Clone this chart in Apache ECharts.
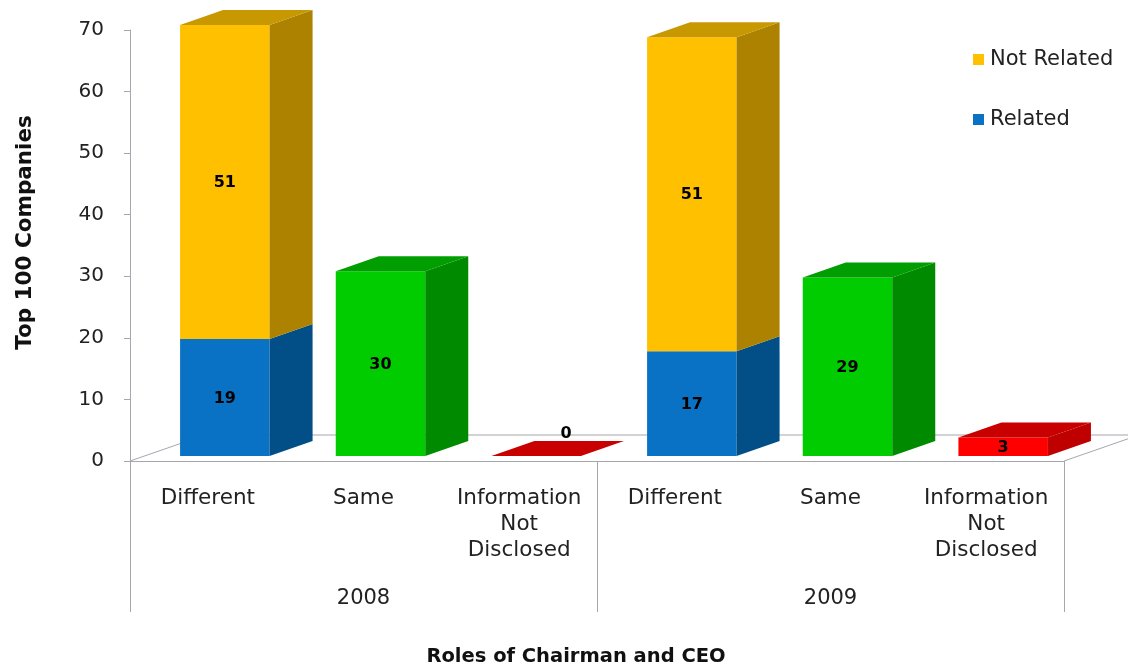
<!DOCTYPE html>
<html>
<head>
<meta charset="utf-8">
<style>
  html, body { margin: 0; padding: 0; background: #fff; }
  #main { width: 1128px; height: 665px; }
</style>
<script src="https://cdn.jsdelivr.net/npm/echarts@6/dist/echarts.min.js"></script>
</head>
<body>
<div id="main"></div>
<script>
var categories = ['Different', 'Same', 'Information\nNot\nDisclosed', 'Different', 'Same', 'Information\nNot\nDisclosed']
var years = ['2008', '2009']
var related = [19, null, null, 17, null, null]
var notRelated = [51, null, null, 51, null, null]
var same = [null, 30, null, null, 29, null]
var notDisclosed = [null, null, 0, null, null, 3]

var FONT = '"DejaVu Sans", Verdana, sans-serif'
var AXIS_COLOR = '#a6a6ae'
var TEXT_COLOR = '#222'

// fake 3d: bars stand on the floor, a bit behind the axis line
var DEPTH_X = 43
var DEPTH_Y = -15
var SHIFT_X = 17
var SHIFT_Y = -5
var BAR_RATIO = 0.575

// [category index, bottom of the segment, top of the segment]
function toItems(values, below) {
  var items = []
  values.forEach(function(v, i) {
    if (v === null) return
    var start = below ? below[i] : 0
    items.push([i, start, start + v])
  })
  return items
}

// top is left out for a segment that has another one stacked on it
function bar3d(front, side, top) {
  return function(params, api) {
    var start = api.coord([api.value(0), api.value(1)])
    var end = api.coord([api.value(0), api.value(2)])
    var w = api.size([1, 0])[0] * BAR_RATIO
    var x0 = start[0] + SHIFT_X - w / 2
    var x1 = x0 + w
    var y0 = start[1] + SHIFT_Y
    var y1 = end[1] + SHIFT_Y
    var value = api.value(2) - api.value(1)
    var children = []
    if (value > 0) {
      children.push({
        type: 'polygon',
        shape: { points: [[x0, y0], [x1, y0], [x1, y1], [x0, y1]] },
        style: { fill: front }
      })
      children.push({
        type: 'polygon',
        shape: { points: [[x1, y0], [x1 + DEPTH_X, y0 + DEPTH_Y], [x1 + DEPTH_X, y1 + DEPTH_Y], [x1, y1]] },
        style: { fill: side }
      })
    }
    if (top) {
      children.push({
        type: 'polygon',
        shape: { points: [[x0, y1], [x1, y1], [x1 + DEPTH_X, y1 + DEPTH_Y], [x0 + DEPTH_X, y1 + DEPTH_Y]] },
        style: { fill: top }
      })
    }
    // the zero bar has no front, its label floats over the flat top
    children.push({
      type: 'text',
      style: {
        text: String(value),
        x: value > 0 ? (x0 + x1) / 2 : (x0 + x1) / 2 + 30,
        y: value > 0 ? (y0 + y1) / 2 + 1 : y1 - 22,
        align: 'center',
        verticalAlign: 'middle',
        fill: '#000',
        font: 'bold 16px ' + FONT
      }
    })
    return { type: 'group', children: children }
  }
}

function renderFloor(params, api) {
  var c = params.coordSys
  var left = c.x
  var right = c.x + c.width
  var bottom = c.y + c.height
  return {
    type: 'polyline',
    shape: { points: [[left, bottom], [left + 75, bottom - 26], [right + 75, bottom - 26], [right, bottom]] },
    style: { fill: null, stroke: AXIS_COLOR, lineWidth: 1 }
  }
}

var chart = echarts.init(document.getElementById('main'))
chart.setOption({
  backgroundColor: '#fff',
  animation: false,
  textStyle: { fontFamily: FONT },
  grid: { left: 130, top: 30, width: 934, height: 431, outerBoundsMode: 'none' },
  legend: {
    data: ['Not Related', 'Related'],
    orient: 'vertical',
    left: 973,
    top: 49,
    padding: 0,
    icon: 'rect',
    itemWidth: 11,
    itemHeight: 11,
    itemGap: 39,
    textStyle: { fontSize: 21, color: TEXT_COLOR, fontFamily: FONT, padding: [0, 0, 0, 1] }
  },
  xAxis: [
    {
      type: 'category',
      data: categories,
      name: 'Roles of Chairman and CEO',
      nameLocation: 'middle',
      nameGap: 186,
      nameTextStyle: { fontSize: 19.5, fontWeight: 'bold', color: '#111', fontFamily: FONT, padding: [0, 42, 0, 0] },
      axisLine: { lineStyle: { color: AXIS_COLOR } },
      axisTick: { show: false },
      axisLabel: { interval: 0, margin: 24, fontSize: 21.5, lineHeight: 26, color: TEXT_COLOR, fontFamily: FONT }
    },
    {
      type: 'category',
      data: years,
      position: 'bottom',
      axisLine: { show: true, lineStyle: { color: AXIS_COLOR } },
      axisTick: { show: true, length: 151, lineStyle: { color: AXIS_COLOR } },
      axisLabel: { interval: 0, margin: 127, fontSize: 21, color: TEXT_COLOR, fontFamily: FONT }
    }
  ],
  yAxis: {
    type: 'value',
    min: 0,
    max: 70,
    interval: 10,
    name: 'Top 100 Companies',
    nameLocation: 'middle',
    nameGap: 94,
    nameTextStyle: { fontSize: 21.5, fontWeight: 'bold', color: '#111', fontFamily: FONT, padding: [0, 0, 0, 26] },
    axisLine: { show: true, lineStyle: { color: AXIS_COLOR } },
    axisTick: { show: true, length: 6, lineStyle: { color: AXIS_COLOR } },
    axisLabel: { margin: 26, fontSize: 20, color: TEXT_COLOR, fontFamily: FONT },
    splitLine: { show: false }
  },
  series: [
    {
      type: 'custom',
      silent: true,
      renderItem: renderFloor,
      data: [[0]],
      z: 1
    },
    {
      name: 'Related',
      type: 'custom',
      renderItem: bar3d('#0A72C4', '#024F88'),
      itemStyle: { color: '#0A72C4' },
      encode: { x: 0, y: [1, 2] },
      data: toItems(related),
      z: 2
    },
    {
      name: 'Not Related',
      type: 'custom',
      renderItem: bar3d('#FFC000', '#AD8200', '#C89800'),
      itemStyle: { color: '#FFC000' },
      encode: { x: 0, y: [1, 2] },
      data: toItems(notRelated, related),
      z: 3
    },
    {
      name: 'Same',
      type: 'custom',
      renderItem: bar3d('#00CC00', '#008A00', '#009E00'),
      itemStyle: { color: '#00CC00' },
      encode: { x: 0, y: [1, 2] },
      data: toItems(same),
      z: 2
    },
    {
      name: 'Information Not Disclosed',
      type: 'custom',
      renderItem: bar3d('#FF0000', '#BE0000', '#C80000'),
      itemStyle: { color: '#FF0000' },
      encode: { x: 0, y: [1, 2] },
      data: toItems(notDisclosed),
      z: 2
    }
  ]
})
</script>
</body>
</html>
